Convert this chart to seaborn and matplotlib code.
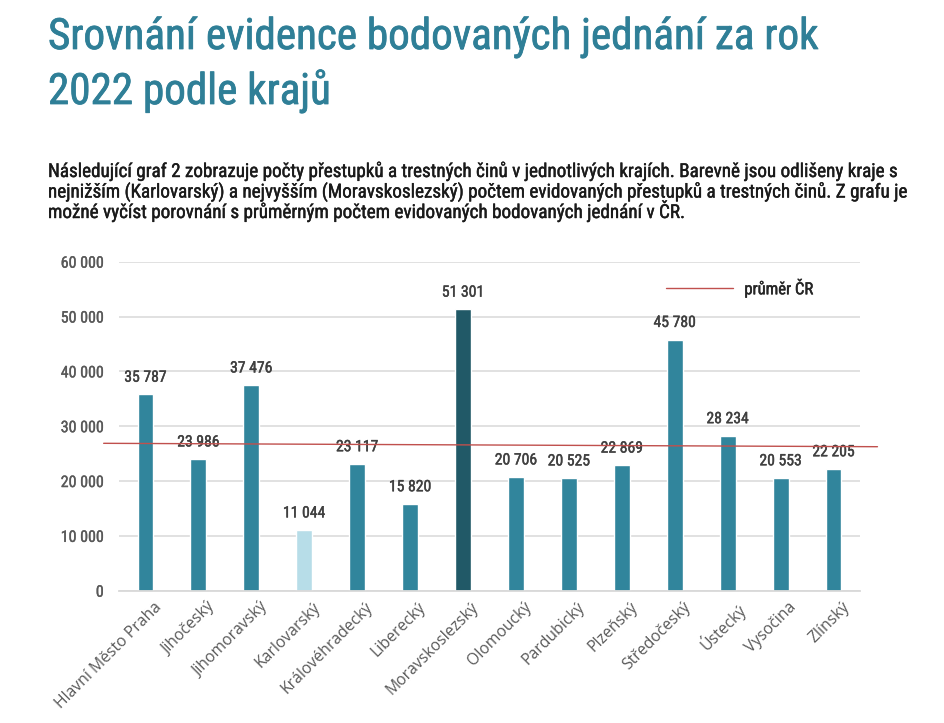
import matplotlib
matplotlib.use("Agg")
import matplotlib.pyplot as plt
import matplotlib.font_manager as fm
import matplotlib.transforms as mtransforms
import matplotlib.patheffects as pe
from matplotlib.lines import Line2D
import seaborn as sns
import pandas as pd

# ---------------- data ----------------
kraje = ["Hlavní Město Praha", "Jihočeský", "Jihomoravský", "Karlovarský",
         "Královéhradecký", "Liberecký", "Moravskoslezský", "Olomoucký",
         "Pardubický", "Plzeňský", "Středočeský", "Ústecký", "Vysočina", "Zlínský"]
hodnoty = [35787, 23986, 37476, 11044, 23117, 15820, 51301, 20706,
           20525, 22869, 45780, 28234, 20553, 22205]
prumer_cr = [26880, 26260]          # average line (start, end) as drawn in the source
y_ticks = [0, 10000, 20000, 30000, 40000, 50000, 60000]

title_lines = ["Srovnání evidence bodovaných jednání za rok", "2022 podle krajů"]
body_lines = [
    "Následující graf 2 zobrazuje počty přestupků a trestných činů v jednotlivých krajích. Barevně jsou odlišeny kraje s",
    "nejnižším (Karlovarský) a nejvyšším (Moravskoslezský) počtem evidovaných přestupků a trestných činů. Z grafu je",
    "možné vyčíst porovnání s průměrným počtem evidovaných bodovaných jednání v ČR.",
]
legend_label = "průměr ČR"

# ---------------- style ----------------
sns.set_theme(style="white")
names = {f.name for f in fm.fontManager.ttflist}
def pick(*c):
    for n in c:
        if n in names:
            return n
    return "DejaVu Sans"
DIN = pick("Roboto Condensed", "Liberation Sans Narrow", "Roboto", "DejaVu Sans")
LAB = pick("Open Sans", "Noto Sans", "DejaVu Sans")
plt.rcParams["font.family"] = [DIN, "DejaVu Sans"]

def medium(color, lw):
    return [pe.withStroke(linewidth=lw, foreground=color)]

TEAL = "#31859C"
LIGHT = "#B7DDE8"
DARK = "#215967"
RED = "#C0504D"
GRID = "#D9D9D9"

palette = {k: TEAL for k in kraje}
palette["Karlovarský"] = LIGHT
palette["Moravskoslezský"] = DARK

df = pd.DataFrame({"kraj": kraje, "pocet": hodnoty})

W, H = 945, 723
fig = plt.figure(figsize=(W / 100, H / 100), dpi=100)
ax = fig.add_axes([119 / W, 1 - 590.7 / H, (860 - 119) / W, (590.7 - 261.7) / H])

sns.barplot(data=df, x="kraj", y="pocet", hue="kraj", palette=palette,
            legend=False, width=0.3, ax=ax, saturation=1, zorder=2)

ax.set_xlim(-0.5, len(kraje) - 0.5)
ax.set_ylim(0, 60000)
ax.set_yticks(y_ticks)
ax.set_yticklabels([f"{v:,}".replace(",", " ") for v in y_ticks],
                   fontsize=11.5, color="#595959", family=[DIN, "DejaVu Sans"])
for lab in ax.get_yticklabels():
    lab.set_path_effects(medium("#595959", 0.25))
ax.yaxis.grid(True, color=GRID, linewidth=1.1, zorder=0)
ax.set_axisbelow(True)
for s in ["top", "right", "left"]:
    ax.spines[s].set_visible(False)
ax.spines["bottom"].set_color(GRID)
ax.spines["bottom"].set_linewidth(1.3)
ax.tick_params(axis="both", length=0)
ax.tick_params(axis="y", pad=11)
ax.set_xlabel("")
ax.set_ylabel("")
ax.set_xticks(range(len(kraje)))
ax.set_xticklabels(kraje, rotation=45, ha="right", rotation_mode="anchor",
                   fontsize=11.3, color="#595959", family=[LAB, "DejaVu Sans"])
ax.tick_params(axis="x", pad=6)
shift = mtransforms.ScaledTranslation(8 / 100, 0, fig.dpi_scale_trans)
for lab in ax.get_xticklabels():
    lab.set_transform(lab.get_transform() + shift)

# data labels
for i, v in enumerate(hodnoty):
    ax.annotate(f"{v:,}".replace(",", " "), (i, v), xytext=(0, 7),
                textcoords="offset points", ha="center", va="bottom",
                fontsize=11.3, color="#404040",
                path_effects=medium("#404040", 0.3))

# average line
ax.plot([-0.79, len(kraje) - 1 + 0.83], prumer_cr, color=RED,
        linewidth=1.0, clip_on=False, zorder=3)

leg_handle = Line2D([0], [0], color=RED, linewidth=1.0)
leg = fig.legend([leg_handle], [legend_label], loc="center left",
                 bbox_to_anchor=(666 / W, 1 - 288 / H), frameon=False,
                 borderaxespad=0, borderpad=0, handlelength=4.0,
                 handletextpad=0.7, prop={"family": DIN, "size": 12})
for t in leg.get_texts():
    t.set_color("#262626")
    t.set_path_effects(medium("#262626", 0.35))

# title and intro text
tcol = "#2F7F97"
t1 = fig.text(48 / W, 1 - 49 / H, title_lines[0], fontsize=27, color=tcol,
              va="baseline", path_effects=medium(tcol, 0.55))
t2 = fig.text(48 / W, 1 - 104 / H, title_lines[1], fontsize=27, color=tcol,
              va="baseline", path_effects=medium(tcol, 0.55))
bts = []
for line, yb in zip(body_lines, [177, 197.5, 218]):
    bts.append(fig.text(48 / W, 1 - yb / H, line, fontsize=11, color="#1A1A1A",
                        va="baseline", path_effects=medium("#1A1A1A", 0.3)))

# fit widths to the reference layout
fig.canvas.draw()
r = fig.canvas.get_renderer()
def width(t):
    return t.get_window_extent(renderer=r).width
s = (817 - 48) / width(t1)
t1.set_fontsize(t1.get_fontsize() * s)
t2.set_fontsize(t2.get_fontsize() * s)
sb = (895 - 48) / width(bts[0])
for b in bts:
    b.set_fontsize(b.get_fontsize() * sb)

fig.savefig("out.png", dpi=100, facecolor="white")
